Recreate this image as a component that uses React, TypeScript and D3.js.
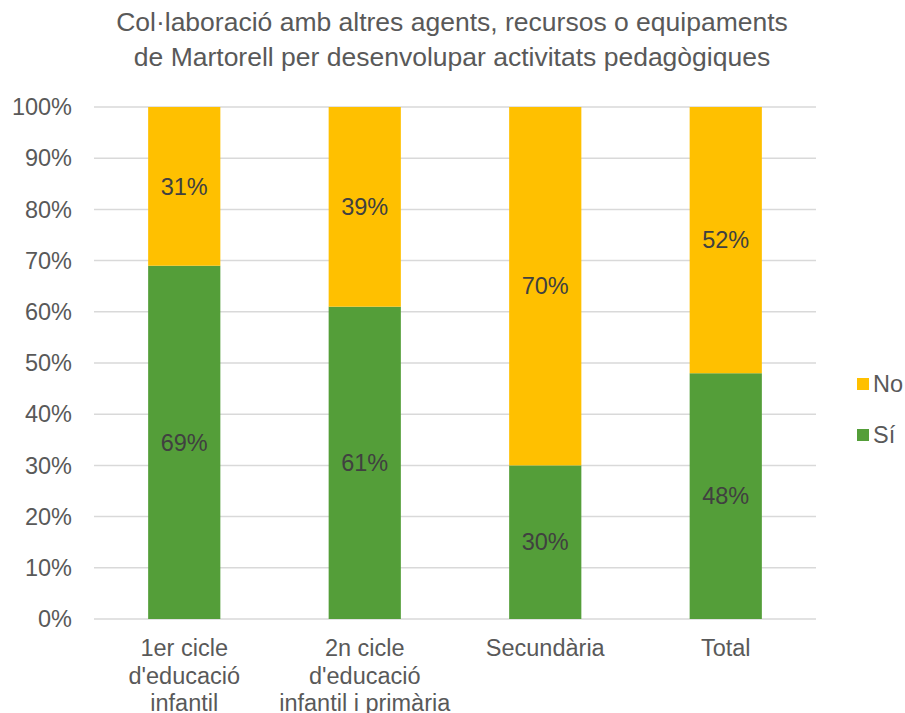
import React from "react";
import * as d3 from "d3";

const categories: string[][] = [
  ["1er cicle", "d'educació", "infantil"],
  ["2n cicle", "d'educació", "infantil i primària"],
  ["Secundària"],
  ["Total"],
];
const siValues = [69, 61, 30, 48];
const noValues = [31, 39, 70, 52];
const yTicks = [0, 10, 20, 30, 40, 50, 60, 70, 80, 90, 100];
const seriesNames = ["No", "Sí"];
const titleLines = [
  "Col·laboració amb altres agents, recursos o equipaments",
  "de Martorell per desenvolupar activitats pedagògiques",
];

const GREEN = "#549E39";
const ORANGE = "#FFC000";
const FONT = "'Liberation Sans', Arial, sans-serif";

export default function App() {
  const W = 905, H = 713;
  const left = 94, right = 816, top = 107, bottom = 619;
  const x = d3.scaleBand<number>().domain(d3.range(categories.length)).range([left, right]).paddingInner(0.6).paddingOuter(0.3);
  const y = d3.scaleLinear().domain([0, 100]).range([bottom, top]);
  const bw = x.bandwidth();
  return (
    <svg width={W} height={H} style={{ position: "absolute", left: 0, top: 0, fontFamily: FONT }}>
      <rect width={W} height={H} fill="#fff" />
      {titleLines.map((t, i) => (
        <text key={i} x={452} y={22 + i * 35} dy="0.35em" textAnchor="middle" fontSize={26.5} fill="#595959">{t}</text>
      ))}
      {yTicks.map((t) => (
        <g key={t}>
          <line x1={left} x2={right} y1={y(t)} y2={y(t)} stroke="#D9D9D9" strokeWidth={1.5} />
          <text x={72} y={y(t)} dy="0.35em" textAnchor="end" fontSize={23.5} fill="#595959">{t}%</text>
        </g>
      ))}
      {categories.map((c, i) => {
        const x0 = x(i)!;
        const cx = x0 + bw / 2;
        const si = siValues[i], no = noValues[i];
        return (
          <g key={i}>
            <rect x={x0} y={y(si)} width={bw} height={y(0) - y(si)} fill={GREEN} />
            <rect x={x0} y={y(si + no)} width={bw} height={y(si) - y(si + no)} fill={ORANGE} />
            <text x={cx} y={y(si / 2)} dy="0.35em" textAnchor="middle" fontSize={23.5} fill="#404040">{si}%</text>
            <text x={cx} y={y(si + no / 2)} dy="0.35em" textAnchor="middle" fontSize={23.5} fill="#404040">{no}%</text>
            {c.map((l, j) => (
              <text key={j} x={cx} y={648 + j * 27.5} dy="0.35em" textAnchor="middle" fontSize={23.5} fill="#595959">{l}</text>
            ))}
          </g>
        );
      })}
      {seriesNames.map((s, i) => (
        <g key={s}>
          <rect x={857} y={378 + i * 51} width={12} height={12} fill={s === "No" ? ORANGE : GREEN} />
          <text x={873} y={384 + i * 51} dy="0.35em" fontSize={23.5} fill="#595959">{s}</text>
        </g>
      ))}
    </svg>
  );
}
